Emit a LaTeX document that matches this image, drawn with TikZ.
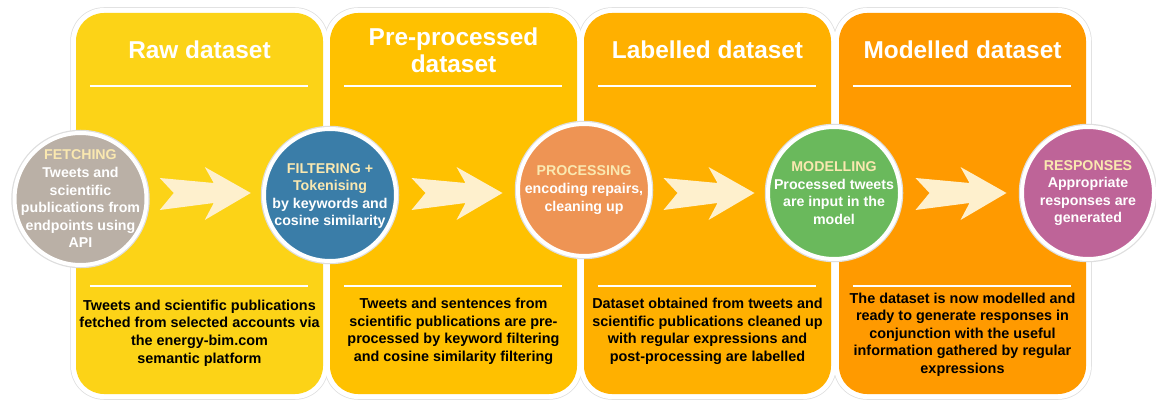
\documentclass[tikz,border=0pt]{standalone}
\usepackage{fontspec}
\setmainfont{Liberation Sans}
\usetikzlibrary{calc}

\definecolor{pRaw}{HTML}{FCD317}
\definecolor{pPre}{HTML}{FFC100}
\definecolor{pLab}{HTML}{FFB000}
\definecolor{pMod}{HTML}{FF9A00}
\definecolor{cFetch}{HTML}{BAB0A6}
\definecolor{cFilt}{HTML}{3A7DA8}
\definecolor{cProc}{HTML}{EE9454}
\definecolor{cModl}{HTML}{6AB95C}
\definecolor{cResp}{HTML}{BE6498}
\definecolor{stagehead}{HTML}{FAE8B0}
\definecolor{chevfill}{HTML}{FEF0CD}
\definecolor{rimgray}{HTML}{DEDEDE}

% chevron arrow centred between two stage circles
\newcommand\stagearrow[2]{%
  \coordinate (m-#1) at ($(#1.east)!0.5!(#2.west)$);
  \coordinate (n-#1) at (m-#1 |- 0,193);
  \fill[chevfill, shift={(n-#1)}]
    (-45.5,-15) -- (8.5,-10) -- (-0.5,-26) -- (45.5,0) -- (-0.5,27)
    -- (8.5,10) -- (-45.5,17) -- (-31.5,0) -- cycle;
}

\begin{document}
\begin{tikzpicture}[x=1pt, y=-1pt,
  panel/.style={rectangle, rounded corners=28pt, minimum width=247pt,
    minimum height=381pt, inner sep=0pt, draw=none},
  paneltitle/.style={align=center, text=white, inner sep=0pt,
    font=\fontsize{24.4}{27}\selectfont\bfseries},
  panelnote/.style={align=center, text=black, inner sep=0pt,
    font=\fontsize{14.4}{17.6}\selectfont\bfseries},
  divider/.style={white, line width=1.6pt},
  stagecircle/.style={circle, minimum size=132pt, inner sep=0pt, draw=white,
    line width=4pt, preaction={draw=rimgray, line width=6.5pt}},
  stagetext/.style={align=center, text=white, inner sep=0pt,
    font=\fontsize{14.2}{17.6}\selectfont\bfseries},
]
\useasboundingbox (0,0) rectangle (1156,401);

% white frames behind the four panels, with a light grey rim
\foreach \l/\r in {76/323, 330/577, 584/831, 839/1086}
  \draw[rimgray, line width=1.5pt, rounded corners=33pt] (\l-5,8) rectangle (\r+5,399);
\foreach \l/\r in {76/323, 330/577, 584/831, 839/1086}
  \fill[white, rounded corners=33pt] (\l-5,8) rectangle (\r+5,399);

% panels
\node[panel, fill=pRaw] (p1) at (199.5,203.5) {};
\node[panel, fill=pPre] (p2) at (453.5,203.5) {};
\node[panel, fill=pLab] (p3) at (707.5,203.5) {};
\node[panel, fill=pMod] (p4) at (962.5,203.5) {};

% panel titles
\node[paneltitle] (h1) at (199.5,50) {Raw dataset};
\node[paneltitle] (h2) at (453.5,50) {Pre-processed\\dataset};
\node[paneltitle] (h3) at (707.5,50) {Labelled dataset};
\node[paneltitle] (h4) at (962.5,50) {Modelled dataset};

% divider lines
\foreach \p in {p1,p2,p3,p4} {
  \draw[divider] ([shift={(14,73)}]\p.north west) -- ([shift={(-15,73)}]\p.north east);
  \draw[divider] ([shift={(14,273)}]\p.north west) -- ([shift={(-15,273)}]\p.north east);
}

% panel descriptions
\node[panelnote] (d1) at (199.5,333) {Tweets and scientific publications\\fetched from selected accounts via\\the energy-bim.com\\semantic platform};
\node[panelnote] (d2) at (453.5,331.5) {Tweets and sentences from\\scientific publications are pre-\\processed by keyword filtering\\and cosine similarity filtering};
\node[panelnote] (d3) at (707.5,331.5) {Dataset obtained from tweets and\\scientific publications cleaned up\\with regular expressions and\\post-processing are labelled};
\node[panelnote] (d4) at (962.5,334.5) {The dataset is now modelled and\\ready to generate responses in\\conjunction with the useful\\information gathered by regular\\expressions};

% stage circles
\node[stagecircle, fill=cFetch] (c1) at (80.5,199) {};
\node[stagecircle, fill=cFilt]  (c2) at (330,195) {};
\node[stagecircle, fill=cProc]  (c3) at (584,190) {};
\node[stagecircle, fill=cModl]  (c4) at (834,193) {};
\node[stagecircle, fill=cResp]  (c5) at (1088,193) {};

\node[stagetext] (s1) at (c1) {\textcolor{stagehead}{FETCHING}\\Tweets and\\scientific\\publications from\\endpoints using\\API};
\node[stagetext] (s2) at ([yshift=-1]c2.center) {\textcolor{stagehead}{FILTERING +}\\\textcolor{stagehead}{Tokenising}\\by keywords and\\cosine similarity};
\node[stagetext] (s3) at (c3) {\textcolor{stagehead}{PROCESSING}\\encoding repairs,\\cleaning up};
\node[stagetext] (s4) at (c4) {\textcolor{stagehead}{MODELLING}\\Processed tweets\\are input in the\\model};
\node[stagetext] (s5) at (c5) {\textcolor{stagehead}{RESPONSES}\\Appropriate\\responses are\\generated};

% arrows between stages
\stagearrow{c1}{c2}
\stagearrow{c2}{c3}
\stagearrow{c3}{c4}
\stagearrow{c4}{c5}
\end{tikzpicture}
\end{document}
